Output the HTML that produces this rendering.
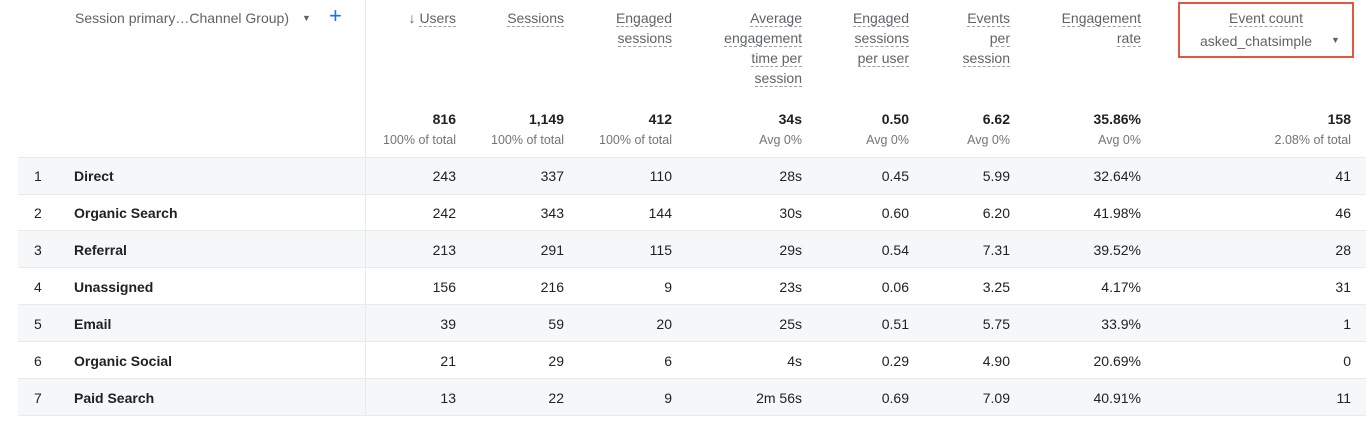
<!DOCTYPE html>
<html><head><style>
body{margin:0;width:1366px;height:435px;background:#fff;font-family:"Liberation Sans",sans-serif;color:#202124;position:relative;overflow:hidden}
.a{position:absolute;white-space:nowrap}
.r{text-align:right}
.h{font-size:14px;color:#5f6368;line-height:20px}
.h span{border-bottom:1px dashed #9aa0a6}
.row{position:absolute;left:18px;width:1348px;height:36px;border-bottom:1px solid #e8eaed}
.sh{background:#f6f7f9}
.c{position:absolute;font-size:14px;line-height:36px;text-align:right}
.t{font-size:14px;font-weight:bold;line-height:16px}
.s{font-size:12.5px;color:#70757a}
</style></head><body>
<div class="a h" style="left:75px;top:8px">Session primary…Channel Group)</div>
<div class="a" style="left:302px;top:13px;font-size:9px;color:#5f6368">▼</div>
<div class="a" style="left:329px;top:3px;font-size:22px;color:#1a73e8">+</div>
<div class="a h r" style="right:910px;top:8px">↓ <span>Users</span></div>
<div class="a h r" style="right:802px;top:8px"><span>Sessions</span></div>
<div class="a h r" style="right:694px;top:8px"><span>Engaged</span><br><span>sessions</span></div>
<div class="a h r" style="right:564px;top:8px"><span>Average</span><br><span>engagement</span><br><span>time per</span><br><span>session</span></div>
<div class="a h r" style="right:457px;top:8px"><span>Engaged</span><br><span>sessions</span><br><span>per user</span></div>
<div class="a h r" style="right:356px;top:8px"><span>Events</span><br><span>per</span><br><span>session</span></div>
<div class="a h r" style="right:225px;top:8px"><span>Engagement</span><br><span>rate</span></div>
<div class="a" style="left:1178px;top:2px;width:172px;height:52px;border:2px solid #e2583e"></div>
<div class="a h" style="left:1180px;top:8px;width:172px;text-align:center"><span>Event count</span></div>
<div class="a h" style="left:1200px;top:31px">asked_chatsimple</div>
<div class="a" style="left:1331px;top:35px;font-size:9px;color:#5f6368">▼</div>
<div id="tot"></div>
<script>
var R=[456,564,672,802,909,1010,1141,1351];
var tot=["816","1,149","412","34s","0.50","6.62","35.86%","158"];
var sub=["100% of total","100% of total","100% of total","Avg 0%","Avg 0%","Avg 0%","Avg 0%","2.08% of total"];
var h="";
for(var i=0;i<8;i++){h+='<div class="a t r" style="right:'+(1366-R[i])+'px;top:111px">'+tot[i]+'</div><div class="a s r" style="right:'+(1366-R[i])+'px;top:133px">'+sub[i]+'</div>';}
var rows=[["Direct","243","337","110","28s","0.45","5.99","32.64%","41"],["Organic Search","242","343","144","30s","0.60","6.20","41.98%","46"],["Referral","213","291","115","29s","0.54","7.31","39.52%","28"],["Unassigned","156","216","9","23s","0.06","3.25","4.17%","31"],["Email","39","59","20","25s","0.51","5.75","33.9%","1"],["Organic Social","21","29","6","4s","0.29","4.90","20.69%","0"],["Paid Search","13","22","9","2m 56s","0.69","7.09","40.91%","11"]];
for(var j=0;j<7;j++){var y=157+j*37;var d=rows[j];
h+='<div class="row'+(j%2==0?' sh':'')+'" style="top:'+y+'px;border-top:'+(j==0?'1px solid #e8eaed':'0')+'"></div>';
h+='<div class="a c" style="left:34px;top:'+(y+1)+'px">'+(j+1)+'</div>';
h+='<div class="a c" style="left:74px;top:'+(y+1)+'px;font-weight:bold;text-align:left">'+d[0]+'</div>';
for(var i=0;i<8;i++)h+='<div class="a c" style="right:'+(1366-R[i])+'px;top:'+(y+1)+'px">'+d[i+1]+'</div>';}
document.getElementById("tot").innerHTML=h;
</script>
<div class="a" style="left:365px;top:0;width:1px;height:416px;background:#e8eaed"></div>
</body></html>
